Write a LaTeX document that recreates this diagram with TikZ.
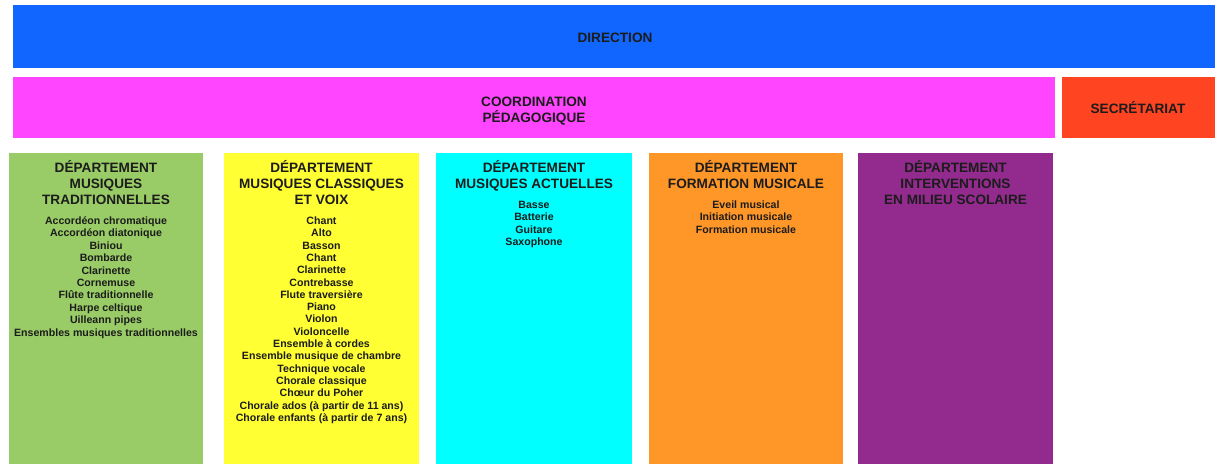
\documentclass[tikz,border=0pt]{standalone}
\usepackage{fontspec}
\setmainfont{Liberation Sans}
\definecolor{cdir}{HTML}{1166FF}
\definecolor{ccoord}{HTML}{FF45FF}
\definecolor{csec}{HTML}{FF4422}
\definecolor{cgreen}{HTML}{99CC66}
\definecolor{cyellow}{HTML}{FFFF33}
\definecolor{ccyan}{HTML}{00FFFF}
\definecolor{corange}{HTML}{FF9628}
\definecolor{cpurple}{HTML}{932A8E}
\definecolor{ctext}{HTML}{1C1C1C}
\tikzset{
  box/.style={draw=none, inner sep=0pt, anchor=north west},
  head/.style={inner sep=0pt, anchor=base, text=ctext, font=\fontsize{13.6}{16.5}\selectfont\bfseries},
  item/.style={inner sep=0pt, anchor=base, text=ctext, font=\fontsize{10.6}{12.4}\selectfont\bfseries},
}
\begin{document}
\begin{tikzpicture}[x=1pt,y=-1pt]
\useasboundingbox (0,0) rectangle (1215,463);
% boxes
\node[box, fill=cdir, minimum width=1210pt, minimum height=63pt] (dir) at (13,5) {};
\node[box, fill=ccoord, minimum width=1042pt, minimum height=61pt] (coord) at (13,77) {};
\node[box, fill=csec, minimum width=160pt, minimum height=61pt] (sec) at (1062,77) {};
\node[box, fill=cgreen, minimum width=194pt, minimum height=320pt] (dg) at (9,153) {};
\node[box, fill=cyellow, minimum width=195pt, minimum height=320pt] (dy) at (224,153) {};
\node[box, fill=ccyan, minimum width=196pt, minimum height=320pt] (dc) at (436,153) {};
\node[box, fill=corange, minimum width=194pt, minimum height=320pt] (do) at (649,153) {};
\node[box, fill=cpurple, minimum width=195pt, minimum height=320pt] (dp) at (858,153) {};
% top texts
\node[head] (tdir) at (615,42) {DIRECTION};
\node[head] (tco1) at (534,106) {COORDINATION};
\node[head] (tco2) at (534,122.5) {PÉDAGOGIQUE};
\node[head] (tsec) at (1138,113) {SECRÉTARIAT};
% green
\foreach \t [count=\i] in {DÉPARTEMENT, MUSIQUES, TRADITIONNELLES}
  \node[head] (gh\i) at ({106},{172+(\i-1)*16.3}) {\t};
\foreach \t [count=\i] in {Accordéon chromatique, Accordéon diatonique, Biniou, Bombarde, Clarinette, Cornemuse, Flûte traditionnelle, Harpe celtique, Uilleann pipes, Ensembles musiques traditionnelles}
  \node[item] (gi\i) at ({106},{224.5+(\i-1)*12.4}) {\t};
% yellow
\foreach \t [count=\i] in {DÉPARTEMENT, MUSIQUES CLASSIQUES, ET VOIX}
  \node[head] (yh\i) at ({321.5},{172+(\i-1)*16.3}) {\t};
\foreach \t [count=\i] in {Chant, Alto, Basson, Chant, Clarinette, Contrebasse, Flute traversière, Piano, Violon, Violoncelle, Ensemble à cordes, Ensemble musique de chambre, Technique vocale, Chorale classique, Chœur du Poher, Chorale ados (à partir de 11 ans), Chorale enfants (à partir de 7 ans)}
  \node[item] (yi\i) at ({321.5},{224.5+(\i-1)*12.3}) {\t};
% cyan
\foreach \t [count=\i] in {DÉPARTEMENT, MUSIQUES ACTUELLES}
  \node[head] (ch\i) at ({534},{172+(\i-1)*16.3}) {\t};
\foreach \t [count=\i] in {Basse, Batterie, Guitare, Saxophone}
  \node[item] (ci\i) at ({534},{208.5+(\i-1)*12.3}) {\t};
% orange
\foreach \t [count=\i] in {DÉPARTEMENT, FORMATION MUSICALE}
  \node[head] (oh\i) at ({746},{172+(\i-1)*16.3}) {\t};
\foreach \t [count=\i] in {Eveil musical, Initiation musicale, Formation musicale}
  \node[item] (oi\i) at ({746},{208.5+(\i-1)*12.3}) {\t};
% purple
\foreach \t [count=\i] in {DÉPARTEMENT, INTERVENTIONS, EN MILIEU SCOLAIRE}
  \node[head] (ph\i) at ({955.5},{172+(\i-1)*16.3}) {\t};
\end{tikzpicture}
\end{document}
